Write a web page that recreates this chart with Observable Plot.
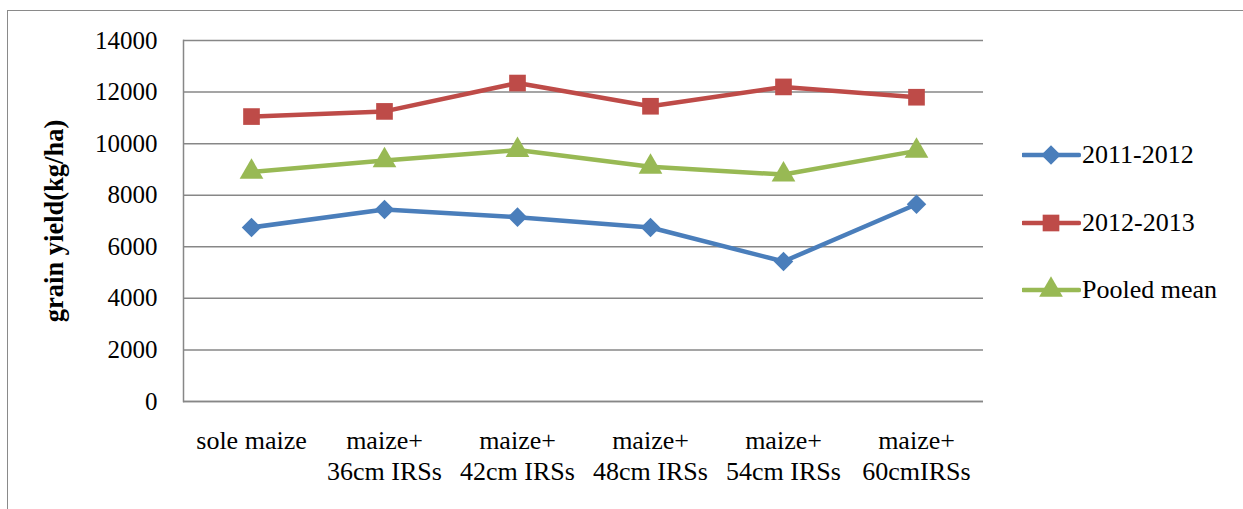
<!DOCTYPE html>
<html><head><meta charset="utf-8">
<script src="https://cdn.jsdelivr.net/npm/d3@7"></script>
<script src="https://cdn.jsdelivr.net/npm/@observablehq/plot@0.6"></script>
<style>
html,body{margin:0;padding:0;background:#fff;overflow:hidden;}
#wrap{position:relative;width:1243px;height:509px;font-family:"Times New Roman","Liberation Serif","DejaVu Serif",serif;overflow:hidden;}
#frame{position:absolute;left:7px;top:10px;width:1300px;height:600px;border:1.5px solid #8a8a8a;box-sizing:border-box;}
#chart{position:absolute;left:0;top:0;}
.item{position:absolute;left:1022px;display:flex;align-items:center;white-space:nowrap;font-size:26px;color:#000;}
svg text{font-family:"Times New Roman","Liberation Serif","DejaVu Serif",serif !important;}
</style></head>
<body><div id="wrap"><div id="frame"></div><div id="chart"></div><div id="legend"></div></div>
<script>
const categories = ["sole maize", "maize+\n36cm IRSs", "maize+\n42cm IRSs", "maize+\n48cm IRSs", "maize+\n54cm IRSs", "maize+\n60cmIRSs"];
const seriesNames = ["2011-2012", "2012-2013", "Pooled mean"];
const y2011 = [6750, 7450, 7150, 6750, 5430, 7650];
const y2012 = [11050, 11250, 12350, 11450, 12200, 11800];
const pooled = [8900, 9350, 9750, 9100, 8800, 9720];
const yTicks = [0, 2000, 4000, 6000, 8000, 10000, 12000, 14000];
const colors = ["#4A7EBB", "#BE4B48", "#98B954"];
const symbols = ["diamond2", "square", "triangle"];
const radii = [8.8, 9.4, 8.8];
const yLabel = "grain yield(kg/ha)";

const seriesValues = [y2011, y2012, pooled];
const rows = seriesNames.flatMap((s, i) => categories.map((c, j) => ({cat: c, series: s, value: seriesValues[i][j]})));

const marks = [
  Plot.gridY({ticks: yTicks, stroke: "#878787", strokeOpacity: 1, strokeWidth: 1.5}),
  Plot.ruleY([0], {stroke: "#878787", strokeWidth: 1.5}),
  Plot.frame({anchor: "left", stroke: "#878787", strokeWidth: 1.5}),
  Plot.axisY({ticks: yTicks, tickSize: 0, tickPadding: 26, tickFormat: d3.format("d"), fontSize: 25,
    label: yLabel, labelAnchor: "center", labelOffset: 139, labelArrow: "none"}),
  Plot.axisX({tickSize: 0, tickPadding: 25, fontSize: 26, lineHeight: 1.2, label: null}),
];
seriesNames.forEach((s, i) => {
  const d = rows.filter(r => r.series === s);
  marks.push(Plot.line(d, {x: "cat", y: "value", stroke: colors[i], strokeWidth: 4.5}));
});
seriesNames.forEach((s, i) => {
  const d = rows.filter(r => r.series === s);
  marks.push(Plot.dot(d, {x: "cat", y: "value", fill: colors[i], stroke: "none", symbol: symbols[i], r: radii[i]}));
});

const chart = Plot.plot({
  width: 1243, height: 509,
  marginLeft: 183, marginRight: 260, marginTop: 40, marginBottom: 108,
  style: {fontFamily: "'Times New Roman', 'Liberation Serif', 'DejaVu Serif', serif", fontSize: "25px", background: "none", color: "#000"},
  x: {type: "point", domain: categories, padding: 0.5, label: null},
  y: {domain: [0, 14000], label: yLabel},
  marks
});
chart.querySelectorAll("[aria-label='y-axis label'] text, [aria-label='y-axis label']").forEach(e => {
  e.setAttribute("font-weight", "bold");
  e.setAttribute("font-size", "26.5");
});
document.getElementById("chart").appendChild(chart);

// legend
const legend = document.getElementById("legend");
const rowCenters = [155, 223, 290];
seriesNames.forEach((s, i) => {
  const div = document.createElement("div");
  div.className = "item";
  div.style.top = (rowCenters[i] - 16) + "px";
  div.style.height = "32px";
  const svg = d3.create("svg").attr("width", 59).attr("height", 32);
  svg.append("line").attr("x1", 1).attr("x2", 57).attr("y1", 16).attr("y2", 16)
    .attr("stroke", colors[i]).attr("stroke-width", 4.5).attr("stroke-linecap", "round");
  const symMap = {diamond2: d3.symbolDiamond2 || d3.symbolSquare, square: d3.symbolSquare, triangle: d3.symbolTriangle};
  svg.append("path").attr("d", d3.symbol(symMap[symbols[i]], Math.PI * radii[i] * radii[i])())
    .attr("transform", `translate(29,16)`).attr("fill", colors[i]);
  div.appendChild(svg.node());
  const t = document.createElement("span");
  t.textContent = s;
  t.style.marginLeft = "1px";
  div.appendChild(t);
  legend.appendChild(div);
});
</script>
</body></html>
